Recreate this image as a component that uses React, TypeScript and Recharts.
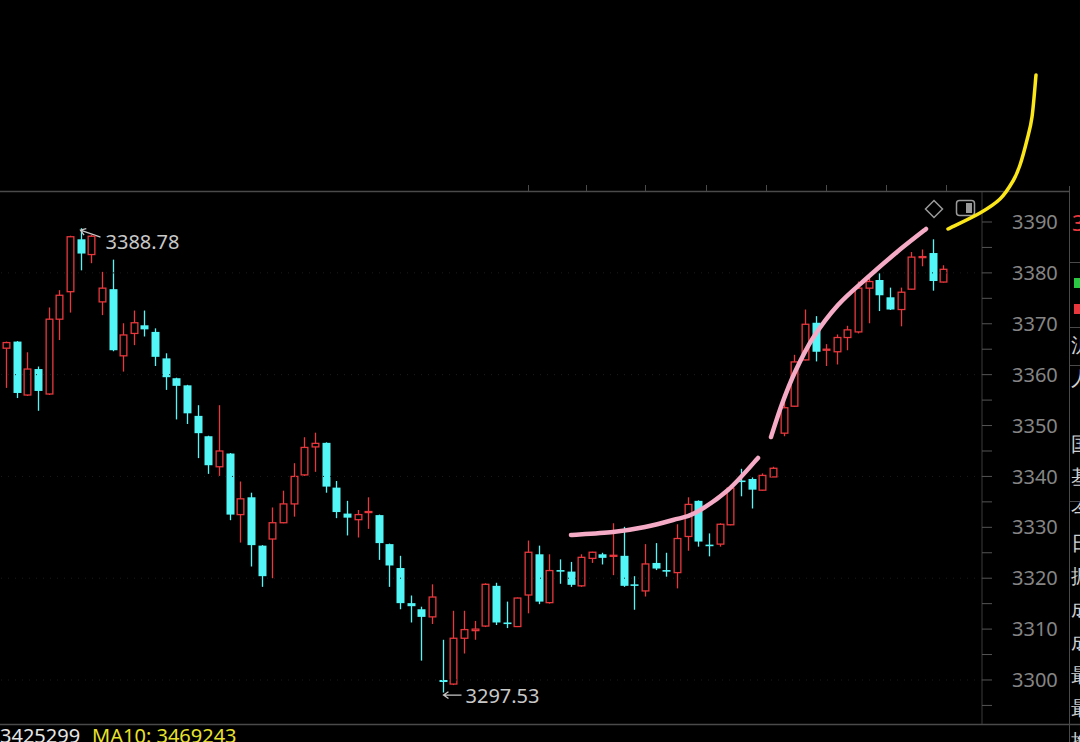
import { ComposedChart, Bar, XAxis, YAxis, ReferenceLine } from 'recharts';

// daily candles (oldest first)
const opens = [
  3365.2, 3366.5, 3356.0, 3361.1, 3356.2, 3370.9, 3376.3, 3386.6, 3383.6, 3374.3,
  3376.8, 3363.7, 3368.1, 3369.7, 3368.4, 3363.2, 3359.3, 3357.9, 3351.9, 3347.9,
  3341.9, 3344.5, 3332.5, 3335.9, 3326.4, 3327.7, 3330.9, 3334.6, 3340.3, 3345.8,
  3346.6, 3337.8, 3332.7, 3331.5, 3332.9, 3332.4, 3326.7, 3322.0, 3315.1, 3313.9,
  3312.4, 3300.0, 3299.2, 3308.2, 3309.7, 3310.6, 3318.5, 3311.3, 3310.5, 3316.7,
  3324.7, 3315.2, 3321.6, 3321.3, 3318.5, 3323.9, 3324.7, 3324.3, 3324.4, 3318.8,
  3317.5, 3323.0, 3321.6, 3321.1, 3328.2, 3335.2, 3326.6, 3326.7, 3330.5, 3339.2,
  3339.5, 3337.3, 3339.9, 3348.5, 3353.8, 3362.9, 3370.2, 3364.8, 3364.5, 3367.3,
  3368.4, 3377.0, 3378.6, 3375.2, 3372.8, 3376.8, 3383.0, 3383.9, 3378.2,
];
const closes = [
  3366.3, 3356.4, 3361.1, 3356.8, 3370.9, 3375.6, 3387.1, 3383.8, 3387.2, 3377.0,
  3364.8, 3367.8, 3370.2, 3368.9, 3363.5, 3359.5, 3357.8, 3352.4, 3348.5, 3342.2,
  3345.0, 3332.5, 3335.6, 3326.5, 3320.4, 3330.9, 3334.6, 3340.0, 3345.7, 3346.5,
  3338.0, 3333.0, 3331.9, 3332.5, 3333.1, 3326.9, 3322.5, 3315.1, 3314.5, 3312.4,
  3316.3, 3299.6, 3308.2, 3309.9, 3310.0, 3318.8, 3311.3, 3311.0, 3316.1, 3325.1,
  3315.4, 3321.5, 3321.4, 3318.7, 3324.1, 3325.1, 3324.0, 3324.5, 3318.5, 3318.5,
  3322.8, 3321.9, 3321.4, 3327.8, 3334.5, 3327.2, 3326.4, 3330.6, 3337.7, 3339.0,
  3337.4, 3340.2, 3341.6, 3353.5, 3362.5, 3369.9, 3364.5, 3365.0, 3367.3, 3368.8,
  3377.0, 3378.3, 3375.6, 3372.8, 3376.2, 3383.1, 3383.2, 3378.4, 3380.7,
];
const highs = [
  3366.5, 3366.6, 3364.4, 3361.6, 3373.2, 3376.6, 3387.3, 3388.78, 3387.5, 3380.2,
  3382.6, 3370.1, 3372.6, 3372.6, 3369.1, 3364.2, 3359.4, 3358.0, 3354.0, 3348.0,
  3354.0, 3344.6, 3339.0, 3336.8, 3326.5, 3333.9, 3337.2, 3342.6, 3347.7, 3348.6,
  3346.7, 3339.1, 3335.2, 3333.4, 3335.9, 3332.5, 3326.8, 3324.4, 3316.6, 3314.4,
  3318.8, 3307.9, 3313.6, 3313.6, 3311.6, 3319.0, 3319.1, 3315.4, 3316.2, 3327.4,
  3326.4, 3324.7, 3323.7, 3323.2, 3324.7, 3325.2, 3325.0, 3330.8, 3330.1, 3320.4,
  3326.7, 3326.9, 3325.0, 3330.6, 3335.9, 3335.3, 3328.8, 3330.8, 3338.0, 3341.5,
  3339.8, 3340.6, 3341.9, 3355.7, 3363.9, 3372.8, 3371.5, 3366.0, 3367.9, 3369.6,
  3378.3, 3379.0, 3379.9, 3377.1, 3377.1, 3384.1, 3384.6, 3386.6, 3381.5,
];
const lows = [
  3357.4, 3355.4, 3355.8, 3352.9, 3356.0, 3366.8, 3372.2, 3380.5, 3381.9, 3371.7,
  3364.6, 3360.6, 3365.8, 3367.5, 3361.7, 3357.0, 3351.2, 3350.3, 3343.6, 3340.5,
  3340.1, 3331.4, 3327.0, 3322.3, 3318.3, 3320.0, 3330.8, 3332.1, 3340.1, 3340.9,
  3336.8, 3331.8, 3328.4, 3328.0, 3329.7, 3323.6, 3318.3, 3313.9, 3311.3, 3303.8,
  3311.0, 3297.53, 3299.0, 3305.2, 3307.9, 3310.4, 3310.8, 3310.2, 3310.4, 3313.1,
  3314.9, 3315.0, 3318.9, 3318.3, 3318.3, 3323.0, 3322.7, 3320.6, 3318.3, 3313.8,
  3316.4, 3321.6, 3320.3, 3318.0, 3325.4, 3326.2, 3324.3, 3326.2, 3330.4, 3336.1,
  3333.7, 3337.2, 3339.9, 3347.9, 3353.7, 3362.8, 3362.6, 3361.7, 3362.0, 3364.8,
  3368.1, 3370.1, 3372.5, 3372.7, 3369.5, 3376.7, 3381.3, 3376.5, 3378.1,
];

const yTicks = [
  3295, 3300, 3305, 3310, 3315, 3320, 3325, 3330, 3335, 3340,
  3345, 3350, 3355, 3360, 3365, 3370, 3375, 3380, 3385, 3390,
];
const gridLevels = [3300, 3320, 3340, 3360, 3380];
const maText = ['3425299', 'MA10: 3469243'];
const sideChars = ['沪', '人', '国', '基', '今', '日', '振', '成', '成', '最', '最', '换'];

const RED = '#e8383d';
const CYAN = '#52f6f6';
const AXIS_GRAY = '#858585';
const FONT = '"Noto Sans", "Open Sans", sans-serif';

const candles = opens.map((o, i) => ({
  i,
  open: o,
  close: closes[i],
  high: highs[i],
  low: lows[i],
}));

const maxIdx = highs.indexOf(Math.max(...highs));
const minIdx = lows.indexOf(Math.min(...lows));

function arrowPath(x1: number, y1: number, x2: number, y2: number) {
  const a = Math.atan2(y2 - y1, x2 - x1);
  const h = 6;
  const l = [x2 - h * Math.cos(a - 0.6), y2 - h * Math.sin(a - 0.6)];
  const r = [x2 - h * Math.cos(a + 0.6), y2 - h * Math.sin(a + 0.6)];
  return `M${x1},${y1} L${x2},${y2} M${l[0]},${l[1]} L${x2},${y2} L${r[0]},${r[1]}`;
}

function Candle(props: any) {
  const { x, y, width, height, payload, index } = props;
  if (!payload) return null;
  const { open, close, high, low } = payload;
  const k = height / (high - low);
  const py = (v: number) => y + (high - v) * k;
  const cx = Math.round(x + width / 2) + 0.5;
  const up = close >= open;
  const color = up ? RED : CYAN;
  const top = py(Math.max(open, close));
  const bot = py(Math.min(open, close));
  const idx = index ?? payload.i;

  return (
    <g>
      <line x1={cx} x2={cx} y1={py(high)} y2={py(low)} stroke={color} strokeWidth={1.3} />
      {up ? (
        <rect
          x={cx - width / 2 + 0.65}
          y={top}
          width={width - 1.3}
          height={Math.max(bot - top, 1)}
          fill="#000"
          stroke={color}
          strokeWidth={1.3}
        />
      ) : (
        <rect x={cx - width / 2} y={top} width={width} height={Math.max(bot - top, 1.6)} fill={color} />
      )}
      {idx === maxIdx && (
        <g>
          <path d={arrowPath(cx + 19, py(high) + 9, cx - 1, py(high) + 2)} stroke="#c8c8c8" strokeWidth={1.3} fill="none" />
          <text x={cx + 24} y={py(high) + 13} fill="#c8c8c8" fontSize={20} fontFamily={FONT} dominantBaseline="central">
            {high.toFixed(2)}
          </text>
        </g>
      )}
      {idx === minIdx && (
        <g>
          <path d={arrowPath(cx + 18, py(low) + 2.5, cx, py(low) + 2.5)} stroke="#c8c8c8" strokeWidth={1.3} fill="none" />
          <text x={cx + 22} y={py(low) + 2.5} fill="#c8c8c8" fontSize={20} fontFamily={FONT} dominantBaseline="central">
            {low.toFixed(2)}
          </text>
        </g>
      )}
    </g>
  );
}

// catmull-rom through hand-drawn points
function smooth(pts: number[][]) {
  let d = `M${pts[0][0]},${pts[0][1]}`;
  for (let i = 0; i < pts.length - 1; i++) {
    const p0 = pts[i - 1] || pts[i];
    const p1 = pts[i];
    const p2 = pts[i + 1];
    const p3 = pts[i + 2] || p2;
    const c1 = [p1[0] + (p2[0] - p0[0]) / 6, p1[1] + (p2[1] - p0[1]) / 6];
    const c2 = [p2[0] - (p3[0] - p1[0]) / 6, p2[1] - (p3[1] - p1[1]) / 6];
    d += ` C${c1[0]},${c1[1]} ${c2[0]},${c2[1]} ${p2[0]},${p2[1]}`;
  }
  return d;
}

const pinkA = [[571, 535], [613, 532], [645, 527], [673, 520], [695, 513], [728, 490], [758, 458]];
const pinkB = [[771, 437], [782, 404], [795, 372], [813, 338], [838, 305], [867, 278], [897, 252], [926, 229]];
const yellow = [[948, 229], [980, 213], [1000, 199], [1013, 181], [1020, 165], [1027, 140], [1032, 117], [1036, 75]];
const topTicks = [528, 586, 645, 706, 766, 826, 886, 946];

export default function App() {
  return (
    <div style={{ position: 'fixed', left: 0, top: 0, width: 1080, height: 742, background: '#000', overflow: 'hidden' }}>
      <div style={{ position: 'absolute', left: 0, top: 0 }}>
        <ComposedChart width={1080} height={742} data={candles} margin={{ top: 191, right: 11, bottom: 18, left: 0 }}>
          <XAxis dataKey="i" hide padding={{ left: 1, right: 33 }} />
          <YAxis
            orientation="right"
            width={87}
            domain={[3291.35, 3396.09]}
            allowDataOverflow
            ticks={yTicks}
            interval={0}
            tickSize={10}
            tickMargin={20}
            axisLine={{ stroke: '#3a3a3a' }}
            tickLine={{ stroke: '#555' }}
            tick={{ fill: AXIS_GRAY, fontSize: 20, fontFamily: FONT }}
            tickFormatter={(v: number) => (v % 10 === 0 ? String(v) : '')}
          />
          {gridLevels.map((g) => (
            <ReferenceLine key={g} y={g} stroke="#1c1c1c" strokeDasharray="1 6" />
          ))}
          <Bar dataKey={(d: any) => [d.low, d.high]} barSize={8} shape={<Candle />} isAnimationActive={false} />
        </ComposedChart>
      </div>

      <svg width={1080} height={742} style={{ position: 'absolute', left: 0, top: 0, pointerEvents: 'none' }}>
        {/* frame */}
        <line x1={0} x2={1069} y1={191.5} y2={191.5} stroke="#4a4a4a" strokeWidth={1.5} />
        {topTicks.map((t) => (
          <line key={t} x1={t + 0.5} x2={t + 0.5} y1={185} y2={191} stroke="#4a4a4a" />
        ))}
        <line x1={0} x2={1080} y1={724.5} y2={724.5} stroke="#4a4a4a" strokeWidth={1.5} />
        <line x1={1069.5} x2={1069.5} y1={186} y2={742} stroke="#4a4a4a" />
        {[262, 327, 365, 501].map((h) => (
          <line key={h} x1={1069} x2={1080} y1={h + 0.5} y2={h + 0.5} stroke="#4a4a4a" />
        ))}
        {/* toolbar icons */}
        <path d="M934,200.5 L942.5,209 L934,217.5 L925.5,209 Z" fill="none" stroke="#9a9a9a" strokeWidth={1.5} />
        <rect x={956.5} y={200.5} width={18} height={15} rx={3} fill="none" stroke="#9a9a9a" strokeWidth={1.5} />
        <rect x={966} y={203} width={6} height={10} fill="#9a9a9a" />
        {/* hand-drawn marks */}
        <path d={smooth(pinkA)} fill="none" stroke="#f5aac6" strokeWidth={4.5} strokeLinecap="round" />
        <path d={smooth(pinkB)} fill="none" stroke="#f5aac6" strokeWidth={4.5} strokeLinecap="round" />
        <path d={smooth(yellow)} fill="none" stroke="#fbe61a" strokeWidth={3.5} strokeLinecap="round" />
        {/* side panel bits */}
        <rect x={1074} y={278} width={6} height={10} fill="#2bc843" />
        <rect x={1074} y={304} width={6} height={10} fill={RED} />
      </svg>

      <div style={{ position: 'absolute', left: 1072, top: 208, fontFamily: FONT, fontSize: 22, lineHeight: '28px', color: RED }}>
        3
      </div>
      <div style={{ position: 'absolute', left: 1071, top: 331, fontFamily: FONT, fontSize: 20, color: '#d0d0d0' }}>
        {sideChars.map((c, i) => (
          <div key={i} style={{ height: i === 1 ? 66 : 33, lineHeight: '28px' }}>
            {c}
          </div>
        ))}
      </div>

      <div style={{ position: 'absolute', left: 0, top: 726, fontFamily: FONT, fontSize: 20, lineHeight: '20px', whiteSpace: 'nowrap' }}>
        <span style={{ color: '#e6e6e6' }}>{maText[0]}</span>
        <span style={{ color: '#e8e22e', marginLeft: 12 }}>{maText[1]}</span>
      </div>
    </div>
  );
}
